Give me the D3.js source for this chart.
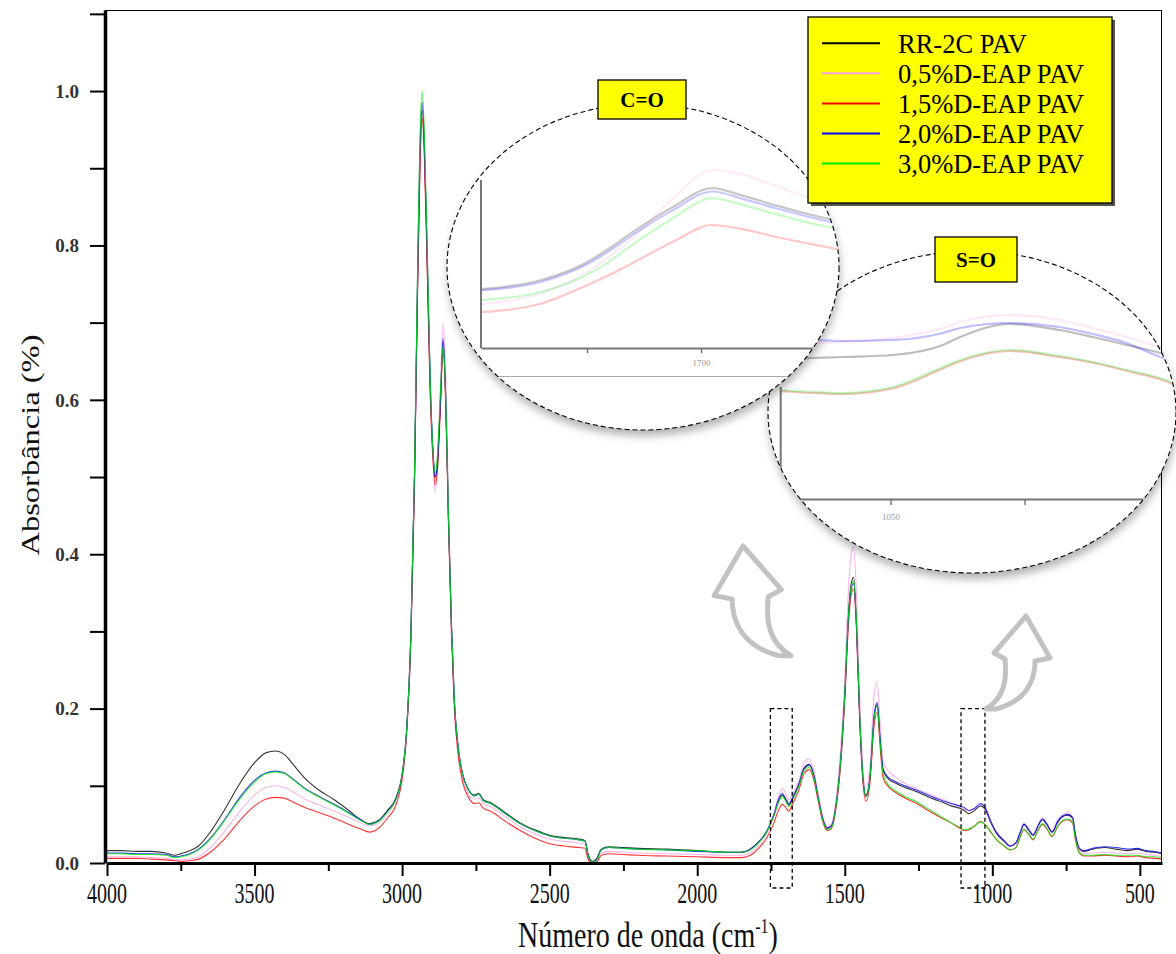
<!DOCTYPE html>
<html>
<head>
<meta charset="utf-8">
<script src="https://cdn.jsdelivr.net/npm/d3@7"></script>
<style>
  html, body { margin: 0; padding: 0; background: #fff; }
  svg { display: block; font-family: "Liberation Serif", "Times New Roman", serif; }
</style>
</head>
<body>
<svg id="chart" width="1176" height="954"></svg>
<script>
// ---------- FTIR spectra (absorbance vs wavenumber, cm-1) ----------
const wavenumbers = [
  4000,3950,3900,3850,3800,3770,3750,3720,3690,3650,
  3600,3550,3500,3460,3430,3400,3370,3330,3280,3230,
  3180,3140,3110,3080,3050,3020,3000,2985,2970,2958,
  2948,2940,2932,2925,2915,2905,2895,2888,2880,2870,
  2861,2852,2843,2833,2823,2810,2795,2775,2755,2740,
  2725,2700,2650,2600,2550,2500,2450,2400,2380,2370,
  2355,2340,2325,2300,2250,2200,2100,2000,1900,1850,
  1820,1790,1765,1740,1725,1712,1700,1690,1675,1655,
  1638,1620,1605,1590,1575,1560,1545,1530,1515,1500,
  1488,1478,1470,1460,1450,1440,1428,1415,1400,1390,
  1380,1370,1350,1330,1310,1290,1260,1230,1200,1170,
  1140,1110,1095,1080,1060,1040,1025,1005,985,960,
  940,920,905,893,875,862,845,830,815,797,
  780,762,745,728,718,705,690,660,620,580,
  540,510,480,450,425
];

const rr2c = [
  .016,.016,.015,.015,.013,.010,.012,.016,.022,.040,
  .070,.103,.130,.143,.145,.141,.128,.110,.094,.082,
  .068,.056,.051,.055,.068,.085,.115,.170,.300,.500,
  .740,.900,.975,.930,.780,.620,.530,.500,.520,.600,
  .675,.600,.450,.310,.210,.150,.115,.095,.088,.090,
  .082,.078,.065,.052,.043,.036,.033,.031,.029,.012,
  .002,.006,.018,.021,.020,.019,.018,.016,.014,.014,
  .018,.028,.040,.062,.080,.088,.082,.075,.085,.102,
  .122,.127,.114,.085,.058,.045,.048,.075,.130,.220,
  .320,.362,.370,.310,.200,.120,.088,.110,.190,.205,
  .160,.120,.108,.104,.100,.097,.093,.088,.083,.079,
  .074,.071,.068,.064,.068,.074,.070,.052,.038,.028,
  .022,.026,.040,.050,.042,.036,.048,.056,.050,.040,
  .052,.060,.062,.058,.035,.018,.015,.018,.020,.018,
  .016,.018,.015,.014,.012
];

const deap05 = [
  .008,.008,.008,.007,.006,.004,.004,.005,.008,.020,
  .042,.067,.088,.098,.100,.098,.092,.083,.075,.067,
  .059,.052,.048,.052,.064,.082,.112,.170,.300,.500,
  .740,.900,.970,.930,.780,.620,.520,.480,.520,.620,
  .700,.630,.470,.320,.210,.150,.110,.090,.083,.084,
  .077,.073,.060,.047,.038,.031,.028,.026,.024,.008,
  .000,.003,.013,.015,.014,.013,.012,.011,.010,.010,
  .013,.024,.038,.064,.085,.097,.090,.082,.090,.108,
  .130,.135,.120,.090,.061,.047,.051,.082,.142,.240,
  .350,.400,.410,.345,.225,.135,.096,.125,.220,.235,
  .180,.132,.118,.112,.106,.102,.097,.092,.087,.083,
  .078,.073,.070,.068,.070,.076,.073,.054,.040,.029,
  .022,.026,.041,.052,.044,.038,.050,.059,.052,.042,
  .055,.063,.065,.060,.035,.017,.012,.013,.014,.013,
  .012,.013,.011,.010,.008
];

const deap15 = [
  .006,.006,.006,.005,.004,.003,.002,.003,.005,.014,
  .032,.055,.074,.083,.085,.084,.079,.072,.065,.058,
  .050,.044,.040,.045,.058,.076,.108,.165,.290,.490,
  .730,.890,.965,.920,.770,.610,.520,.490,.510,.590,
  .665,.590,.440,.300,.200,.140,.105,.085,.077,.078,
  .071,.067,.054,.042,.032,.025,.022,.020,.019,.005,
  -.001,.001,.010,.012,.011,.010,.009,.008,.007,.007,
  .010,.020,.032,.052,.068,.076,.072,.067,.078,.095,
  .116,.121,.108,.080,.054,.042,.045,.070,.122,.210,
  .305,.348,.355,.300,.190,.112,.080,.102,.180,.195,
  .150,.110,.098,.092,.087,.083,.078,.071,.064,.058,
  .052,.045,.042,.043,.048,.054,.050,.040,.030,.022,
  .017,.020,.034,.043,.036,.030,.042,.050,.044,.034,
  .046,.054,.056,.052,.030,.013,.009,.009,.010,.009,
  .008,.009,.007,.006,.005
];

const deap20 = [
  .013,.013,.012,.012,.011,.008,.009,.012,.018,.032,
  .057,.085,.107,.117,.119,.117,.109,.097,.086,.076,
  .065,.056,.050,.055,.067,.084,.114,.170,.300,.500,
  .750,.920,.985,.940,.790,.630,.530,.500,.520,.600,
  .680,.600,.450,.310,.210,.150,.115,.095,.087,.089,
  .081,.077,.064,.051,.042,.035,.032,.030,.028,.010,
  .001,.005,.017,.020,.019,.018,.017,.015,.014,.014,
  .018,.028,.041,.063,.082,.090,.083,.077,.086,.103,
  .123,.128,.114,.085,.058,.045,.048,.074,.128,.218,
  .315,.355,.362,.305,.195,.118,.086,.110,.193,.208,
  .160,.122,.110,.106,.102,.099,.095,.090,.085,.081,
  .077,.074,.072,.068,.071,.077,.072,.054,.039,.029,
  .022,.026,.040,.050,.042,.036,.048,.057,.050,.040,
  .053,.061,.063,.059,.036,.019,.016,.019,.021,.020,
  .018,.019,.016,.015,.013
];

const deap30 = [
  .012,.012,.011,.011,.010,.007,.008,.011,.017,.031,
  .056,.083,.105,.116,.118,.116,.108,.096,.085,.075,
  .064,.055,.050,.054,.066,.083,.114,.170,.300,.510,
  .760,.930,1.000,.950,.800,.630,.530,.505,.530,.610,
  .670,.600,.450,.310,.210,.150,.115,.095,.087,.089,
  .081,.077,.064,.051,.042,.035,.032,.030,.028,.010,
  .001,.004,.017,.020,.019,.018,.017,.016,.014,.014,
  .017,.027,.040,.061,.078,.086,.080,.073,.083,.100,
  .120,.124,.111,.083,.056,.043,.046,.073,.128,.218,
  .318,.358,.365,.308,.198,.118,.086,.108,.190,.203,
  .155,.115,.100,.094,.089,.085,.080,.073,.066,.059,
  .052,.046,.043,.044,.048,.053,.050,.040,.030,.022,
  .017,.020,.035,.044,.037,.031,.043,.051,.045,.035,
  .047,.055,.057,.053,.030,.013,.010,.010,.011,.010,
  .010,.010,.008,.008,.006
];

const seriesNames = ["RR-2C PAV", "0,5%D-EAP PAV", "1,5%D-EAP PAV", "2,0%D-EAP PAV", "3,0%D-EAP PAV"];
const seriesColors = ["#000000", "#f7a3e6", "#ff0000", "#0000ff", "#00ee00"];

// zoomed view of the C=O band
const coWavenumbers = [1719.3, 1714, 1710, 1708, 1706, 1702.5, 1699, 1696.5, 1693.5, 1689.5, 1687.5];
const coRR2C  = [.0525, .0560, .0628, .0682, .0743, .0838, .0911, .0884, .0846, .0800, .0781];
const coDeap05 = [.0468, .0510, .0590, .0650, .0720, .0870, .0980, .0965, .0920, .0860, .0838];
const coDeap15 = [.0437, .0470, .0540, .0580, .0625, .0705, .0770, .0755, .0725, .0690, .0674];
const coDeap20 = [.0520, .0553, .0620, .0672, .0732, .0826, .0898, .0872, .0835, .0790, .0770];
const coDeap30 = [.0483, .0515, .0580, .0632, .0695, .0795, .0873, .0849, .0812, .0768, .0751];

// zoomed view of the S=O band
const soWavenumbers = [1058.2, 1055.8, 1053.6, 1049.8, 1046.1, 1044.8, 1041.1, 1037.4, 1034.9, 1032.4, 1029.9, 1028.8];
const soRR2C  = [.0600, .0608, .0612, .0620, .0660, .0692, .0744, .0720, .0692, .0660, .0628, .0608];
const soDeap05 = [.0660, .0668, .0672, .0688, .0728, .0752, .0780, .0760, .0728, .0692, .0652, .0632];
const soDeap15 = [.0476, .0468, .0464, .0487, .0566, .0595, .0636, .0612, .0589, .0557, .0523, .0502];
const soDeap20 = [.0680, .0680, .0676, .0680, .0708, .0728, .0748, .0732, .0704, .0668, .0612, .0592];
const soDeap30 = [.0480, .0472, .0468, .0492, .0572, .0600, .0640, .0616, .0592, .0560, .0528, .0508];

const xMajorTicks = [4000, 3500, 3000, 2500, 2000, 1500, 1000, 500];
const xMinorTicks = [3750, 3250, 2750, 2250, 1750, 1250, 750];
const yMajorTicks = [0, 0.2, 0.4, 0.6, 0.8, 1.0];
const yMinorTicks = [0.1, 0.3, 0.5, 0.7, 0.9, 1.1];
const highlightBands = [[1752, 1678], [1106, 1025]];

// ---------- layout ----------
const svg = d3.select("#chart");
const plotLeft = 107, plotRight = 1162, plotTop = 10, plotBottom = 863;

const x = d3.scaleLinear().domain([4000, 425]).range([plotLeft, plotRight]);
const y = d3.scaleLinear().domain([0, 1.105]).range([plotBottom, plotTop]);

const defs = svg.append("defs");
defs.append("clipPath").attr("id", "plotClip")
  .append("rect").attr("x", plotLeft).attr("y", plotTop)
  .attr("width", plotRight - plotLeft).attr("height", plotBottom - plotTop);

const shadow = defs.append("filter").attr("id", "softShadow")
  .attr("x", "-20%").attr("y", "-20%").attr("width", "140%").attr("height", "150%");
shadow.append("feDropShadow").attr("dx", 1).attr("dy", 6).attr("stdDeviation", 4)
  .attr("flood-color", "#000").attr("flood-opacity", 0.3);

// ---------- spectra ----------
const allSeries = [rr2c, deap05, deap15, deap20, deap30];
const spectrumLine = d3.line()
  .x((d, i) => x(wavenumbers[i]))
  .y(d => y(d))
  .curve(d3.curveMonotoneX);

svg.append("g").attr("clip-path", "url(#plotClip)")
  .selectAll("path").data(allSeries).join("path")
  .attr("d", spectrumLine)
  .attr("fill", "none")
  .attr("stroke", (d, i) => seriesColors[i])
  .attr("stroke-width", 1.1)
  .attr("stroke-opacity", 0.8)
  .attr("stroke-linejoin", "round");

// ---------- frame and axes ----------
svg.append("line").attr("x1", plotLeft - 2).attr("x2", plotRight).attr("y1", plotTop + 0.5).attr("y2", plotTop + 0.5)
  .attr("stroke", "#000").attr("stroke-width", 1);
svg.append("line").attr("x1", plotRight - 0.5).attr("x2", plotRight - 0.5).attr("y1", plotTop).attr("y2", plotBottom)
  .attr("stroke", "#000").attr("stroke-width", 1);

const xAxisMajor = svg.append("g").attr("transform", `translate(0,${plotBottom})`)
  .call(d3.axisBottom(x).tickValues(xMajorTicks).tickSize(13).tickSizeOuter(0).tickFormat(""));
const xAxisMinor = svg.append("g").attr("transform", `translate(0,${plotBottom})`)
  .call(d3.axisBottom(x).tickValues(xMinorTicks).tickSize(8).tickSizeOuter(0).tickFormat(""));
xAxisMinor.select(".domain").remove();
[xAxisMajor, xAxisMinor].forEach(g => {
  g.selectAll("line").attr("stroke", "#000").attr("stroke-width", 2);
  g.select(".domain").attr("stroke", "#000").attr("stroke-width", 3);
});

const yAxis = svg.append("g").attr("transform", `translate(${plotLeft - 2},0)`)
  .call(d3.axisLeft(y).tickValues(yMajorTicks.concat(yMinorTicks)).tickSize(15).tickSizeOuter(0).tickFormat(""));
yAxis.selectAll("line").attr("stroke", "#000").attr("stroke-width", 2);
yAxis.select(".domain").attr("stroke", "#000").attr("stroke-width", 3.5);

svg.append("g").selectAll("text").data(xMajorTicks).join("text")
  .attr("transform", d => `translate(${x(d)},903) scale(1,1.45)`)
  .attr("text-anchor", "middle")
  .attr("font-size", 20)
  .attr("fill", "#111")
  .text(d => d);

svg.append("g").selectAll("text").data(yMajorTicks).join("text")
  .attr("x", 79).attr("y", d => y(d))
  .attr("dy", "0.36em")
  .attr("text-anchor", "end")
  .attr("font-size", 19)
  .attr("font-weight", "bold")
  .attr("fill", "#333")
  .text(d => d.toFixed(1));

const xTitle = svg.append("text")
  .attr("transform", "translate(648,947) scale(1,1.25)")
  .attr("text-anchor", "middle")
  .attr("font-size", 28)
  .attr("fill", "#111");
xTitle.append("tspan").text("Número de onda (cm");
xTitle.append("tspan").attr("font-size", 16).attr("dy", -11).text("-1");
xTitle.append("tspan").attr("dy", 11).text(")");

svg.append("text")
  .attr("transform", "translate(39,445) rotate(-90) scale(1.3,1)")
  .attr("text-anchor", "middle")
  .attr("font-size", 25)
  .attr("fill", "#111")
  .text("Absorbância (%)");

// ---------- highlighted bands ----------
svg.append("g").selectAll("rect").data(highlightBands).join("rect")
  .attr("x", d => x(d[0]))
  .attr("width", d => x(d[1]) - x(d[0]))
  .attr("y", y(0.2))
  .attr("height", y(0) + 25 - y(0.2))
  .attr("fill", "none")
  .attr("stroke", "#000")
  .attr("stroke-width", 1.3)
  .attr("stroke-dasharray", "4,3");

// ---------- curved pointer arrows ----------
const arrowShape = "M40 0 L64 42 L49 45 C49 65 40 85 10 93 L0 93 C18 82 21 65 19 43 L8 37 Z";
svg.append("path").attr("d", arrowShape)
  .attr("transform", "translate(986,616)")
  .attr("fill", "#fff").attr("stroke", "#c2c2c2").attr("stroke-width", 5)
  .attr("stroke-linejoin", "round");
svg.append("path").attr("d", arrowShape)
  .attr("transform", "translate(791,546) scale(-1.2,1.18)")
  .attr("fill", "#fff").attr("stroke", "#c2c2c2").attr("stroke-width", 5)
  .attr("vector-effect", "non-scaling-stroke")
  .attr("stroke-linejoin", "round");

// ---------- magnified insets ----------
function drawInset(cfg) {
  defs.append("clipPath").attr("id", cfg.id)
    .append("ellipse").attr("cx", cfg.cx).attr("cy", cfg.cy).attr("rx", cfg.rx).attr("ry", cfg.ry);
  const g = svg.append("g");
  g.append("ellipse").attr("cx", cfg.cx).attr("cy", cfg.cy).attr("rx", cfg.rx).attr("ry", cfg.ry)
    .attr("fill", "#fff").attr("filter", "url(#softShadow)");
  const inner = g.append("g").attr("clip-path", `url(#${cfg.id})`);
  cfg.draw(inner);
  g.append("ellipse").attr("cx", cfg.cx).attr("cy", cfg.cy).attr("rx", cfg.rx).attr("ry", cfg.ry)
    .attr("fill", "none").attr("stroke", "#000").attr("stroke-width", 1.1).attr("stroke-dasharray", "5,3");
}

function drawBadge(label, cx, y0, w, h) {
  svg.append("rect").attr("x", cx - w / 2).attr("y", y0).attr("width", w).attr("height", h)
    .attr("fill", "#ffff00").attr("stroke", "#000").attr("stroke-width", 1.3);
  svg.append("text").attr("x", cx).attr("y", y0 + h / 2).attr("dy", "0.36em")
    .attr("text-anchor", "middle").attr("font-size", 21).attr("font-weight", "bold")
    .attr("fill", "#000").text(label);
}

// S=O inset (lies underneath the C=O inset)
const soX = d3.scaleLinear().domain([1058.2, 1030.9]).range([780.7, 1146.5]);
const soY = d3.scaleLinear().domain([0.0044, 0.0492]).range([499, 387]);
drawInset({
  id: "clipSO", cx: 972, cy: 412, rx: 204, ry: 161,
  draw: g => {
    const soSeries = [soRR2C, soDeap05, soDeap15, soDeap20, soDeap30];
    const ln = d3.line().x((d, i) => soX(soWavenumbers[i])).y(d => soY(d)).curve(d3.curveMonotoneX);
    g.selectAll("path.s").data(soSeries).join("path").attr("class", "s")
      .attr("d", ln).attr("fill", "none")
      .attr("stroke", (d, i) => seriesColors[i])
      .attr("stroke-width", 2.2).attr("stroke-opacity", 0.26);
    const ax = g.append("g").attr("transform", `translate(0,${soY(0.0044)})`)
      .call(d3.axisBottom(soX).tickValues([1050, 1040]).tickSize(6).tickSizeOuter(0)
        .tickFormat(d => d === 1050 ? "1050" : ""));
    ax.select(".domain").attr("stroke", "#777").attr("stroke-width", 2);
    ax.selectAll("line").attr("stroke", "#777").attr("stroke-width", 1.5);
    ax.selectAll("text").attr("font-size", 9).attr("fill", "#999")
      .attr("font-family", "'Liberation Serif', serif").attr("dy", "1.3em");
    g.append("line").attr("x1", soX(1058.2)).attr("x2", soX(1058.2))
      .attr("y1", soY(0.0492)).attr("y2", soY(0.0044))
      .attr("stroke", "#777").attr("stroke-width", 2);
  }
});
drawBadge("S=O", 976, 237, 82, 45);

// C=O inset
const coX = d3.scaleLinear().domain([1719.3, 1688]).range([481, 837.8]);
const coY = d3.scaleLinear().domain([0.03, 0.0942]).range([348, 180]);
drawInset({
  id: "clipCO", cx: 643, cy: 267, rx: 196, ry: 163,
  draw: g => {
    const coSeries = [coRR2C, coDeap05, coDeap15, coDeap20, coDeap30];
    const ln = d3.line().x((d, i) => coX(coWavenumbers[i])).y(d => coY(d)).curve(d3.curveMonotoneX);
    g.selectAll("path.c").data(coSeries).join("path").attr("class", "c")
      .attr("d", ln).attr("fill", "none")
      .attr("stroke", (d, i) => seriesColors[i])
      .attr("stroke-width", 2.2).attr("stroke-opacity", 0.22);
    const ax = g.append("g").attr("transform", `translate(0,${coY(0.03)})`)
      .call(d3.axisBottom(coX).tickValues([1710, 1700]).tickSize(5).tickSizeOuter(0)
        .tickFormat(d => d === 1700 ? "1700" : ""));
    ax.select(".domain").attr("stroke", "#777").attr("stroke-width", 2);
    ax.selectAll("line").attr("stroke", "#777").attr("stroke-width", 1.5);
    ax.selectAll("text").attr("font-size", 9).attr("fill", "#999")
      .attr("font-family", "'Liberation Serif', serif").attr("dy", "1.1em");
    g.append("line").attr("x1", coX(1719.3)).attr("x2", coX(1719.3))
      .attr("y1", coY(0.0942)).attr("y2", coY(0.03))
      .attr("stroke", "#777").attr("stroke-width", 2);
    g.append("line").attr("x1", coX(1719)).attr("x2", coX(1692.5))
      .attr("y1", coY(0.03) + 28.5).attr("y2", coY(0.03) + 28.5)
      .attr("stroke", "#aaa").attr("stroke-width", 1.2);
  }
});
drawBadge("C=O", 642, 80, 88, 39);

// ---------- legend ----------
const legend = svg.append("g");
legend.append("rect").attr("x", 811).attr("y", 20).attr("width", 304).attr("height", 186).attr("fill", "#555");
legend.append("rect").attr("x", 808).attr("y", 17).attr("width", 304).attr("height", 186)
  .attr("fill", "#ffff00").attr("stroke", "#000").attr("stroke-width", 1.3);
const rows = legend.selectAll("g.row").data(seriesNames).join("g").attr("class", "row")
  .attr("transform", (d, i) => `translate(0,${52.7 + i * 30.1})`);
rows.append("line").attr("x1", 822).attr("x2", 880).attr("y1", -9.5).attr("y2", -9.5)
  .attr("stroke", (d, i) => seriesColors[i]).attr("stroke-width", 2);
rows.append("text").attr("x", 898).attr("y", 0).attr("font-size", 26.5).attr("fill", "#000").text(d => d);
</script>
</body>
</html>
